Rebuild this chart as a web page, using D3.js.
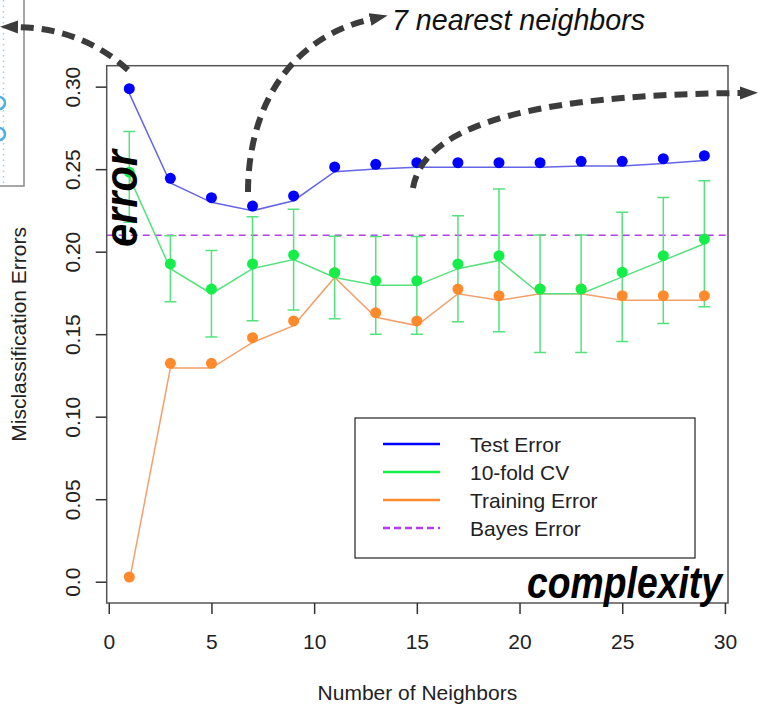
<!DOCTYPE html>
<html>
<head>
<meta charset="utf-8">
<script src="https://cdn.jsdelivr.net/npm/d3@7"></script>
<style>
  body { margin: 0; background: #fff; }
  svg { display: block; }
</style>
</head>
<body>
<div id="vis"></div>
<script>
// data
let neighbors = [1, 3, 5, 7, 9, 11, 13, 15, 17, 19, 21, 23, 25, 27, 29]
let testError = [0.2959, 0.2416, 0.2299, 0.2248, 0.2309, 0.2485, 0.2501, 0.2511, 0.2511, 0.2511, 0.2511, 0.2519, 0.2519, 0.2535, 0.2553]
let cvError = [0.2453, 0.1897, 0.1745, 0.1897, 0.1952, 0.1844, 0.1796, 0.1796, 0.1897, 0.1947, 0.1745, 0.1745, 0.1847, 0.1947, 0.2048]
let cvSE = [0.0275, 0.0200, 0.0262, 0.0315, 0.0305, 0.0250, 0.0296, 0.0296, 0.0321, 0.0433, 0.0356, 0.0356, 0.0392, 0.0382, 0.0382]
let trainError = [0.0, 0.1295, 0.1295, 0.1450, 0.1552, 0.1844, 0.1602, 0.1552, 0.1745, 0.1705, 0.1745, 0.1745, 0.1705, 0.1705, 0.1705]
let bayesError = 0.21

let xTicks = [0, 5, 10, 15, 20, 25, 30]
let yTicks = [0, 0.05, 0.10, 0.15, 0.20, 0.25, 0.30]
let legendLabels = ["Test Error", "10-fold CV", "Training Error", "Bayes Error"]

//global variables
let svgWidth = 762
let svgHeight = 708

let box = { left: 106.7, right: 728, top: 65.7, bottom: 603 }

let narrow = "'Liberation Sans Narrow', 'Arial Narrow', 'Liberation Sans', Arial, sans-serif"
let sans = "'Liberation Sans', Arial, sans-serif"

let colors = {
    test: "#0000ff", testLine: "#6464e6",
    cv: "#14ee48", cvLine: "#55e27c",
    train: "#ff8a2c", trainLine: "#f3a06c",
    bayes: "#b43ee8", ink: "#3c3c3c"
}

// the dots in the picture sit a little above their lines
let dotShift = -4.7

let svg = d3.select('#vis')
    .append('svg')
    .attr('width', svgWidth)
    .attr('height', svgHeight)

// scales
let xScale = d3.scaleLinear()
    .domain([-0.1, 30.15])
    .range([box.left, box.right])

let yScale = d3.scaleLinear()
    .domain([-0.0129, 0.3127])
    .range([box.bottom, box.top])

// leftover of a neighbouring figure at top left
let side = svg.append("g")
side.append("path")
    .attr("d", `M24,0 V186 H0`)
    .attr("fill", "none")
    .attr("stroke", "#8a8a8a")
    .attr("stroke-width", 1.5)
side.append("line")
    .attr("x1", 3.5).attr("x2", 3.5).attr("y1", 0).attr("y2", 186)
    .attr("stroke", "#a9cbe6")
    .attr("stroke-width", 1.5)
    .attr("stroke-dasharray", "1.5,4")
side.selectAll("circle")
    .data([103, 134])
    .join("circle")
        .attr("cx", -1).attr("cy", d => d).attr("r", 6)
        .attr("fill", "none")
        .attr("stroke", "#52aee2")
        .attr("stroke-width", 2.5)

// bayes line
svg.append("line")
    .attr("x1", box.left).attr("x2", box.right)
    .attr("y1", yScale(bayesError)).attr("y2", yScale(bayesError))
    .attr("stroke", colors.bayes)
    .attr("stroke-width", 1.5)
    .attr("stroke-dasharray", "7,5")

let rows = neighbors.map((k, i) => ({
    k: k, test: testError[i], cv: cvError[i], se: cvSE[i], train: trainError[i]
}))

// error bars
let bars = svg.append("g")
    .attr("stroke", colors.cvLine)
    .attr("stroke-width", 1.5)
bars.selectAll("path")
    .data(rows)
    .join("path")
        .attr("fill", "none")
        .attr("d", d => {
            let x = xScale(d.k), y1 = yScale(d.cv + d.se), y2 = yScale(d.cv - d.se)
            return `M${x},${y1}V${y2}M${x - 6},${y1}H${x + 6}M${x - 6},${y2}H${x + 6}`
        })

// lines
let line = key => d3.line().x(d => xScale(d.k)).y(d => yScale(d[key]))

svg.append("path").datum(rows)
    .attr("d", line("train"))
    .attr("fill", "none").attr("stroke", colors.trainLine).attr("stroke-width", 1.5)
svg.append("path").datum(rows)
    .attr("d", line("cv"))
    .attr("fill", "none").attr("stroke", colors.cvLine).attr("stroke-width", 1.5)
svg.append("path").datum(rows)
    .attr("d", line("test"))
    .attr("fill", "none").attr("stroke", colors.testLine).attr("stroke-width", 1.5)

// points
let dots = svg.append("g")
    .attr("transform", `translate(0,${dotShift})`)
;[["train", colors.train], ["cv", colors.cv], ["test", colors.test]].forEach(([key, c]) => {
    dots.append("g").selectAll("circle")
        .data(rows)
        .join("circle")
            .attr("cx", d => xScale(d.k))
            .attr("cy", d => yScale(d[key]))
            .attr("r", 5.5)
            .attr("fill", c)
})

// frame
svg.append("rect")
    .attr("x", box.left).attr("y", box.top)
    .attr("width", box.right - box.left).attr("height", box.bottom - box.top)
    .attr("fill", "none")
    .attr("stroke", "#555")
    .attr("stroke-width", 1.5)

// axes
let xAxis = d3.axisBottom(xScale)
    .tickValues(xTicks)
    .tickSize(11)
    .tickFormat(d3.format("d"))

let gx = svg.append("g")
    .attr("transform", `translate(0,${box.bottom})`)
    .call(xAxis)
gx.select(".domain").remove()
gx.selectAll("line").attr("stroke", "#333").attr("stroke-width", 1.5)
gx.selectAll("text")
    .attr("y", 46).attr("dy", null)
    .attr("fill", "#222")
    .style("font-family", narrow)
    .style("font-size", "21px")

let yAxis = d3.axisLeft(yScale)
    .tickValues(yTicks)
    .tickSize(11)
    .tickFormat(d => d === 0 ? "0.0" : d3.format(".2f")(d))

let gy = svg.append("g")
    .attr("transform", `translate(${box.left},0)`)
    .call(yAxis)
gy.select(".domain").remove()
gy.selectAll("line").attr("stroke", "#333").attr("stroke-width", 1.5)
gy.selectAll("text")
    .attr("x", null).attr("dy", null)
    .attr("text-anchor", "middle")
    .attr("transform", "translate(-27,0) rotate(-90)")
    .attr("fill", "#222")
    .style("font-family", narrow)
    .style("font-size", "21px")

// axis titles
svg.append("text")
    .attr("x", (box.left + box.right) / 2)
    .attr("y", 700)
    .attr("text-anchor", "middle")
    .attr("fill", "#222")
    .style("font-family", narrow)
    .style("font-size", "21px")
    .text("Number of Neighbors")

svg.append("text")
    .attr("transform", `translate(26,${(box.top + box.bottom) / 2}) rotate(-90)`)
    .attr("text-anchor", "middle")
    .attr("fill", "#222")
    .style("font-family", narrow)
    .style("font-size", "21px")
    .text("Misclassification Errors")

// legend
let legend = svg.append("g").attr("transform", "translate(355,418)")
legend.append("rect")
    .attr("width", 340).attr("height", 140)
    .attr("fill", "#fff")
    .attr("stroke", "#222")
    .attr("stroke-width", 1.2)

let legendColors = [colors.test, colors.cv, colors.train, colors.bayes]
let item = legend.selectAll(".item")
    .data(legendLabels)
    .join("g")
        .attr("class", "item")
        .attr("transform", (d, i) => `translate(0,${26 + i * 28})`)
item.append("line")
    .attr("x1", 28).attr("x2", 85)
    .attr("stroke", (d, i) => legendColors[i])
    .attr("stroke-width", 2.5)
    .attr("stroke-dasharray", (d, i) => i === 3 ? "7,4" : null)
item.append("text")
    .attr("x", 115).attr("y", 7.5)
    .attr("fill", "#222")
    .style("font-family", narrow)
    .style("font-size", "21px")
    .text(d => d)

// annotations
let defs = svg.append("defs")
defs.append("marker")
    .attr("id", "head")
    .attr("markerUnits", "userSpaceOnUse")
    .attr("viewBox", "0 -8 20 16")
    .attr("markerWidth", 20).attr("markerHeight", 16)
    .attr("refX", 2).attr("refY", 0)
    .attr("orient", "auto")
    .append("path")
        .attr("d", "M0,-6.5L18,0L0,6.5Z")
        .attr("fill", colors.ink)

let arrows = [
    "M128,70 Q82,28 16,27",
    "M248,192 C248,112 286,38 372,19",
    "M413,188 C422,135 500,95 742,93"
]
svg.append("g").selectAll("path")
    .data(arrows)
    .join("path")
        .attr("d", d => d)
        .attr("fill", "none")
        .attr("stroke", colors.ink)
        .attr("stroke-width", 6)
        .attr("stroke-dasharray", "13,8")
        .attr("marker-end", "url(#head)")

svg.append("text")
    .attr("x", 392).attr("y", 30)
    .attr("textLength", 253).attr("lengthAdjust", "spacingAndGlyphs")
    .attr("fill", "#111")
    .style("font-family", sans)
    .style("font-style", "italic")
    .style("font-size", "29px")
    .text("7 nearest neighbors")

svg.append("text")
    .attr("transform", "translate(137,247) rotate(-90)")
    .attr("textLength", 97).attr("lengthAdjust", "spacingAndGlyphs")
    .attr("fill", "#000")
    .style("font-family", narrow)
    .style("font-style", "italic")
    .style("font-weight", "bold")
    .style("font-size", "47px")
    .text("error")

svg.append("text")
    .attr("x", 527).attr("y", 598)
    .attr("textLength", 195).attr("lengthAdjust", "spacingAndGlyphs")
    .attr("fill", "#000")
    .style("font-family", narrow)
    .style("font-style", "italic")
    .style("font-weight", "bold")
    .style("font-size", "45px")
    .text("complexity")
</script>
</body>
</html>
